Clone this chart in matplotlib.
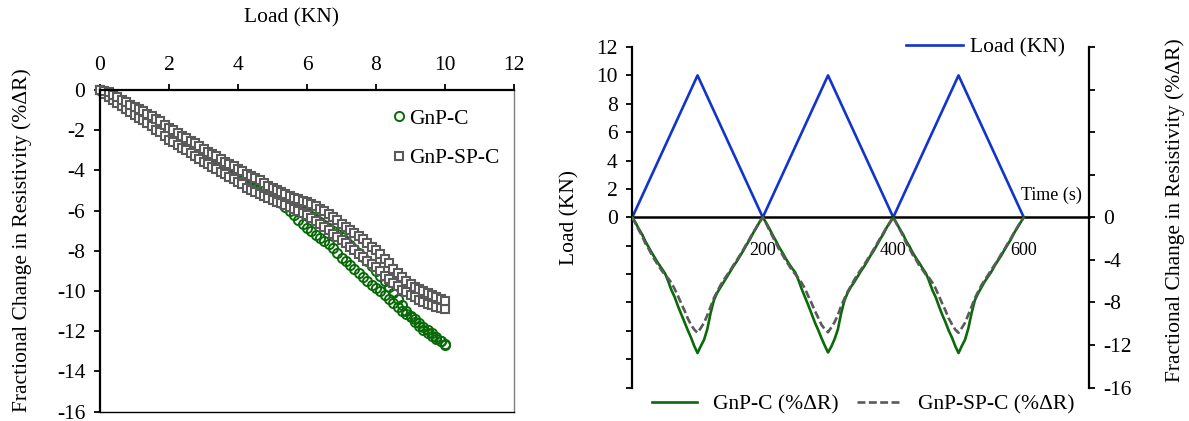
import numpy as np
import matplotlib
matplotlib.use("Agg")
import matplotlib.pyplot as plt

plt.rcParams['font.family'] = ['Liberation Serif', 'DejaVu Serif']
plt.rcParams['axes.unicode_minus'] = False

# ---- left chart: resistivity change vs load, read every 0.125 kN
load_kn = np.linspace(0, 10, 81)
gnp_c_loading = [0, -0.1, -0.2, -0.35, -0.5, -0.65, -0.8, -0.95, -1.1, -1.2,
                 -1.35, -1.5, -1.6, -1.75, -1.9, -2.1, -2.25, -2.35, -2.5, -2.65,
                 -2.8, -2.9, -3.05, -3.2, -3.35, -3.5, -3.6, -3.7, -3.85, -4.0,
                 -4.1, -4.2, -4.35, -4.5, -4.6, -4.7, -4.8, -4.9, -5.0, -5.1,
                 -5.25, -5.4, -5.6, -5.8, -6.0, -6.2, -6.45, -6.65, -6.85, -7.0,
                 -7.2, -7.35, -7.5, -7.65, -7.85, -8.1, -8.35, -8.5, -8.7, -8.9,
                 -9.1, -9.3, -9.5, -9.7, -9.85, -10.0, -10.2, -10.4, -10.6, -10.8,
                 -11.0, -11.15, -11.3, -11.55, -11.75, -11.95, -12.1, -12.25, -12.4, -12.5,
                 -12.65]
gnp_c_unloading = [0, -0.1, -0.2, -0.3, -0.45, -0.6, -0.75, -0.9, -1.0, -1.15,
                   -1.25, -1.4, -1.5, -1.65, -1.8, -1.95, -2.1, -2.2, -2.35, -2.5,
                   -2.6, -2.75, -2.9, -3.0, -3.15, -3.3, -3.4, -3.5, -3.65, -3.8,
                   -3.9, -4.0, -4.15, -4.3, -4.4, -4.5, -4.6, -4.75, -4.85, -5.0,
                   -5.1, -5.2, -5.35, -5.5, -5.6, -5.7, -5.85, -6.0, -6.1, -6.25,
                   -6.4, -6.55, -6.7, -6.85, -7.0, -7.15, -7.3, -7.5, -7.7, -7.9,
                   -8.1, -8.3, -8.5, -8.75, -9.0, -9.25, -9.5, -9.8, -10.1, -10.4,
                   -10.7, -11.0, -11.25, -11.4, -11.6, -11.8, -11.95, -12.1, -12.3, -12.5,
                   -12.7]
gnp_sp_c_loading = [0, -0.2, -0.35, -0.5, -0.65, -0.8, -0.95, -1.1, -1.25, -1.4,
                    -1.5, -1.65, -1.8, -2.0, -2.1, -2.3, -2.5, -2.6, -2.75, -2.9,
                    -3.0, -3.15, -3.3, -3.45, -3.6, -3.7, -3.85, -3.95, -4.1, -4.2,
                    -4.35, -4.45, -4.6, -4.7, -4.85, -4.95, -5.05, -5.15, -5.25, -5.35,
                    -5.45, -5.55, -5.6, -5.7, -5.8, -5.9, -6.0, -6.1, -6.2, -6.35,
                    -6.5, -6.65, -6.8, -6.95, -7.15, -7.3, -7.45, -7.6, -7.8, -7.95,
                    -8.15, -8.3, -8.5, -8.65, -8.8, -9.0, -9.25, -9.4, -9.6, -9.75,
                    -9.95, -10.05, -10.2, -10.3, -10.45, -10.55, -10.65, -10.7, -10.8, -10.85,
                    -10.9]
gnp_sp_c_unloading = [0, -0.05, -0.12, -0.25, -0.35, -0.5, -0.6, -0.75, -0.85, -0.95,
                      -1.05, -1.2, -1.3, -1.45, -1.55, -1.75, -1.9, -2.0, -2.15, -2.3,
                      -2.4, -2.55, -2.65, -2.8, -2.95, -3.1, -3.2, -3.3, -3.45, -3.6,
                      -3.7, -3.8, -3.95, -4.05, -4.2, -4.3, -4.4, -4.5, -4.65, -4.75,
                      -4.85, -4.95, -5.05, -5.15, -5.25, -5.35, -5.4, -5.5, -5.55, -5.65,
                      -5.75, -5.9, -6.0, -6.15, -6.3, -6.45, -6.65, -6.8, -6.95, -7.1,
                      -7.25, -7.4, -7.6, -7.8, -7.95, -8.15, -8.4, -8.6, -8.9, -9.1,
                      -9.3, -9.5, -9.65, -9.8, -9.9, -10.0, -10.1, -10.2, -10.3, -10.4,
                      -10.5]

# ---- right chart: cyclic load and resistivity vs time
load_time = [0, 100, 200, 300, 400, 500, 600]
load_cycle = [0, 10, 0, 10, 0, 10, 0]
time_s = np.arange(0, 601, 5)
gnp_c_t = [0, -0.5, -1.1, -1.6, -2.25, -2.8, -3.35, -3.85, -4.35, -4.8, -5.25, -6.0,
           -6.85, -7.5, -8.35, -9.1, -9.85, -10.6, -11.3, -12.1, -12.75, -12.1, -11.5,
           -10.5, -9.0, -7.8, -7.1, -6.6, -6.1, -5.6, -5.1, -4.6, -4.15, -3.65, -3.15,
           -2.6, -2.1, -1.5, -1.0, -0.45, 0,
           -0.5, -1.05, -1.65, -2.2, -2.8, -3.3, -3.85, -4.35, -4.8, -5.2, -5.95, -6.8,
           -7.55, -8.3, -9.1, -9.9, -10.6, -11.35, -12.05, -12.7, -12.15, -11.45, -10.55,
           -9.05, -7.85, -7.1, -6.55, -6.1, -5.6, -5.1, -4.65, -4.15, -3.6, -3.15, -2.6,
           -2.05, -1.55, -0.95, -0.45, 0,
           -0.55, -1.1, -1.6, -2.25, -2.75, -3.35, -3.85, -4.3, -4.8, -5.25, -6.0, -6.85,
           -7.5, -8.35, -9.15, -9.85, -10.65, -11.3, -12.1, -12.75, -12.1, -11.5, -10.45,
           -9.0, -7.8, -7.15, -6.6, -6.05, -5.6, -5.15, -4.6, -4.1, -3.65, -3.1, -2.6,
           -2.1, -1.5, -1.0, -0.5, 0]
gnp_sp_c_t = [0, -0.6, -1.2, -1.75, -2.45, -2.95, -3.55, -4.05, -4.55, -5.0, -5.4, -5.75,
              -6.15, -6.75, -7.4, -8.1, -8.75, -9.5, -10.1, -10.55, -10.85, -10.4, -9.9,
              -9.2, -8.4, -7.6, -7.0, -6.4, -5.9, -5.45, -5.0, -4.5, -4.05, -3.55, -3.05,
              -2.5, -2.0, -1.45, -0.95, -0.45, 0,
              -0.55, -1.2, -1.8, -2.4, -3.0, -3.5, -4.05, -4.5, -5.0, -5.35, -5.75, -6.2,
              -6.75, -7.45, -8.1, -8.8, -9.45, -10.1, -10.5, -10.8, -10.35, -9.85, -9.2,
              -8.35, -7.65, -7.0, -6.45, -5.9, -5.4, -4.95, -4.5, -4.0, -3.55, -3.0, -2.5,
              -1.95, -1.45, -0.95, -0.5, 0,
              -0.6, -1.15, -1.75, -2.45, -2.95, -3.55, -4.0, -4.55, -4.95, -5.4, -5.7, -6.15,
              -6.7, -7.4, -8.1, -8.75, -9.5, -10.05, -10.55, -10.85, -10.4, -9.9, -9.15,
              -8.4, -7.6, -7.0, -6.4, -5.9, -5.45, -4.95, -4.5, -4.05, -3.5, -3.05, -2.5,
              -2.0, -1.45, -0.95, -0.45, 0]

green = '#0a6a0a'
gray = '#5a5a5a'
blue = '#1234cc'
fs = 15.5

W, H = 1189, 421
fig = plt.figure(figsize=(W / 100, H / 100), dpi=100)

# ================= left chart
ax1 = fig.add_axes([100 / W, 1 - 411.7 / H, 414 / W, 321.7 / H])
ax1.plot(load_kn, gnp_c_loading, 'o', ls='none', mfc='none', mec=green, ms=6.6,
         mew=1.4, clip_on=False, label='GnP-C')
ax1.plot(load_kn, gnp_c_unloading, 'o', ls='none', mfc='none', mec=green, ms=6.6,
         mew=1.4, clip_on=False)
ax1.plot(load_kn, gnp_sp_c_loading, 's', ls='none', mfc='white', mec=gray, ms=6.4,
         mew=1.5, clip_on=False, label='GnP-SP-C')
ax1.plot(load_kn, gnp_sp_c_unloading, 's', ls='none', mfc='white', mec=gray, ms=6.4,
         mew=1.5, clip_on=False)

ax1.set_xlim(0, 12)
ax1.set_ylim(-16, 0)
ax1.set_xticks(range(0, 13, 2))
ax1.set_yticks(range(-16, 1, 2))
ax1.xaxis.tick_top()
ax1.tick_params(axis='x', top=True, bottom=False, labeltop=True, labelbottom=False)
ax1.tick_params(axis='y', left=True, right=False)
ax1.tick_params(direction='out', length=4.5, width=1.3, pad=6, labelsize=fs)
for side, lw, col in [('left', 1.6, 'black'), ('top', 1.6, 'black'),
                      ('right', 1.0, '#7f7f7f'), ('bottom', 1.0, 'black')]:
    ax1.spines[side].set_linewidth(lw)
    ax1.spines[side].set_color(col)

ax1.set_xlabel('Load (KN)', fontsize=fs)
ax1.xaxis.set_label_position('top')
ax1.xaxis.set_label_coords((291 - 100) / 414, (411.7 - 18) / 321.7)
ax1.xaxis.label.set_va('center')
ax1.set_ylabel('Fractional Change in Resistivity (%ΔR)', fontsize=fs)
ax1.yaxis.set_label_coords((22 - 100) / 414, (411.7 - 240) / 321.7)
ax1.yaxis.label.set_va('center')

ax1.legend(loc='center left', bbox_to_anchor=(393 / W, 1 - 138.5 / H),
           bbox_transform=fig.transFigure, frameon=False, fontsize=fs,
           numpoints=1, handlelength=0.55, handletextpad=0.2, labelspacing=0.9,
           borderpad=0, borderaxespad=0)

# ================= right chart
ax2 = fig.add_axes([632.3 / W, 1 - 387.6 / H, 456.7 / W, 340.6 / H])
ax2.plot(load_time, load_cycle, color=blue, lw=1.9, label='Load (KN)')
ax2.set_xlim(0, 700)
ax2.set_ylim(-12, 12)
ax2.set_yticks(range(-12, 13, 2))
ax2.set_yticklabels(['' if v < 0 else str(v) for v in range(-12, 13, 2)])
ax2.set_xticks([200, 400, 600])
ax2.tick_params(axis='x', length=0, pad=18, labelsize=13)
ax2.tick_params(axis='y', direction='out', length=4.5, width=1.3, pad=6, labelsize=fs)
ax2.spines['top'].set_visible(False)
ax2.spines['right'].set_visible(False)
ax2.spines['bottom'].set_position(('data', 0))
ax2.spines['bottom'].set_linewidth(1.8)
ax2.spines['left'].set_linewidth(1.6)
ax2.set_xlabel('Time (s)', fontsize=13)
ax2.xaxis.set_label_coords((1051.7 - 632.3) / 456.7, (387.6 - 195) / 340.6)
ax2.xaxis.label.set_va('center')
ax2.set_ylabel('Load (KN)', fontsize=fs)
ax2.yaxis.set_label_coords((570 - 632.3) / 456.7, 0.5)
ax2.yaxis.label.set_va('center')

ax3 = ax2.twinx()
ax3.plot(time_s, gnp_c_t, color=green, lw=1.9, label='GnP-C (%ΔR)')
ax3.plot(time_s, gnp_sp_c_t, color=gray, lw=1.9, ls=(0, (3, 1.3)),
         label='GnP-SP-C (%ΔR)')
ax3.set_ylim(-16, 16)
ax3.set_yticks(range(-16, 17, 4))
ax3.set_yticklabels([str(v) if v <= 0 else '' for v in range(-16, 17, 4)])
ax3.tick_params(axis='y', direction='out', length=4.5, width=1.3, pad=6, labelsize=fs)
for side in ['top', 'bottom', 'left']:
    ax3.spines[side].set_visible(False)
ax3.spines['right'].set_linewidth(1.6)
ax3.set_ylabel('Fractional Change in Resistivity (%ΔR)', fontsize=fs)
ax3.yaxis.set_label_coords((1175 - 632.3) / 456.7, (387.6 - 210) / 340.6)
ax3.yaxis.label.set_va('center')

ax2.legend(loc='center left', bbox_to_anchor=(906 / W, 1 - 47 / H),
           bbox_transform=fig.transFigure, frameon=False, fontsize=fs,
           handlelength=2.65, handletextpad=0.33, borderpad=0, borderaxespad=0)
ax3.legend(loc='center left', bbox_to_anchor=(652 / W, 1 - 404 / H),
           bbox_transform=fig.transFigure, frameon=False, fontsize=fs, ncol=2,
           handlelength=2.1, handletextpad=0.74, columnspacing=0.84,
           borderpad=0, borderaxespad=0)

plt.savefig('out.png', dpi=100)
plt.close()
